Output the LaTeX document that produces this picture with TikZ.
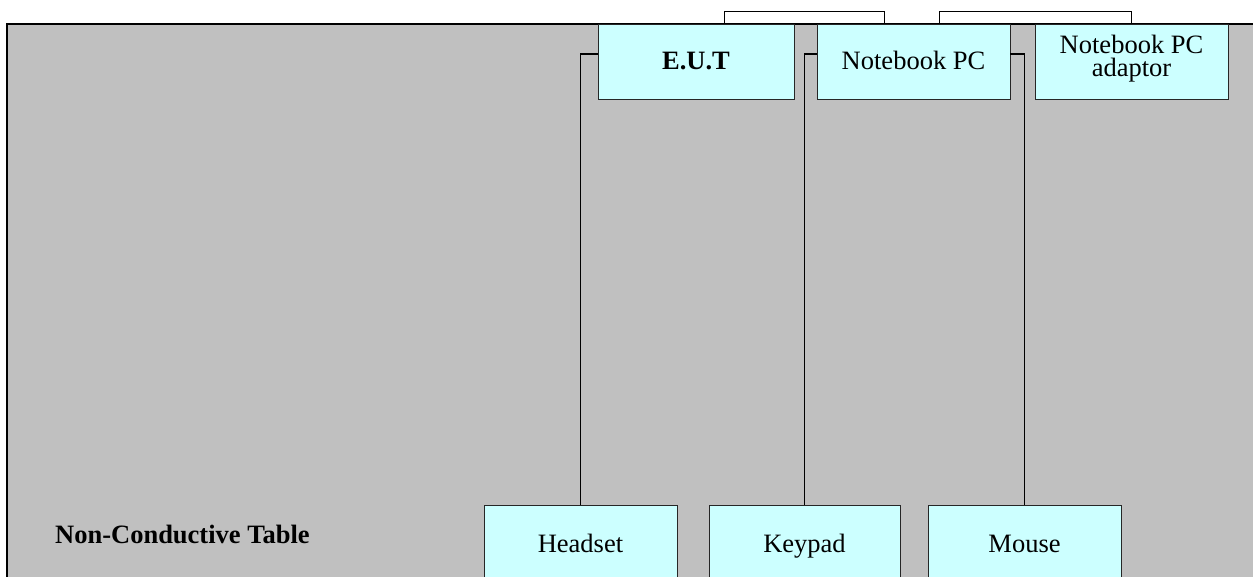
\documentclass[tikz,border=0pt]{standalone}
\usepackage{fontspec}
\setmainfont{Liberation Serif}
\usetikzlibrary{calc}
\definecolor{tablegray}{HTML}{C0C0C0}
\definecolor{boxcyan}{HTML}{CCFFFF}
\begin{document}
\begin{tikzpicture}[x=1pt,y=-1pt,
  dev/.style={draw=black!85, line width=0.9pt, fill=boxcyan, inner sep=0pt,
    minimum width=193pt, minimum height=75pt,
    font=\fontsize{26.5}{23.5}\selectfont, text height=15.6pt, text depth=0pt},
  devtext/.style={inner sep=0pt, align=center, font=\fontsize{26.5}{23.5}\selectfont},
  wire/.style={draw=black, line width=1.2pt},
  bracket/.style={draw=black, line width=1pt}]
\useasboundingbox (0,0) rectangle (1253,577);
\clip (0,0) rectangle (1253,577);
\fill[white] (0,0) rectangle (1253,577);
% table
\draw[fill=tablegray, line width=1.8pt] (7,24) rectangle (1275,600);
\node[anchor=base west, inner sep=0pt, font=\fontsize{26.5}{30}\selectfont\bfseries] (tbl) at (55,543) {Non-Conductive Table};
% top devices
\node[dev, minimum width=196pt, font=\fontsize{26.5}{23.5}\selectfont\bfseries] (eut) at (696,61.5) {E.U.T};
\node[dev] (nb) at (913.5,61.5) {Notebook PC};
\node[dev] (adp) at (1131.5,61.5) {};
\node[devtext] (adptxt) at (1131.5,58.6) {Notebook PC\\adaptor};
% bottom devices
\node[dev, minimum height=80pt] (headset) at (580.5,545) {Headset};
\node[dev, minimum width=191pt, minimum height=80pt] (keypad) at (804.5,545) {Keypad};
\node[dev, minimum width=193pt, minimum height=80pt] (mouse) at (1024.5,545) {Mouse};
% connectors
\draw[wire] (headset.north) |- ($(eut.north west)!0.4!(eut.south west)$);
\draw[wire] (keypad.north) |- ($(nb.north west)!0.4!(nb.south west)$);
\draw[wire] (mouse.north) |- ($(nb.north east)!0.4!(nb.south east)$);
% brackets above
\draw[bracket] ($(eut.north west)!0.643!(eut.north east)$) -- ++(0,-12) -| ($(nb.north west)!0.352!(nb.north east)$);
\draw[bracket] ($(nb.north west)!0.632!(nb.north east)$) -- ++(0,-12) -| (adp.north);
\end{tikzpicture}
\end{document}
